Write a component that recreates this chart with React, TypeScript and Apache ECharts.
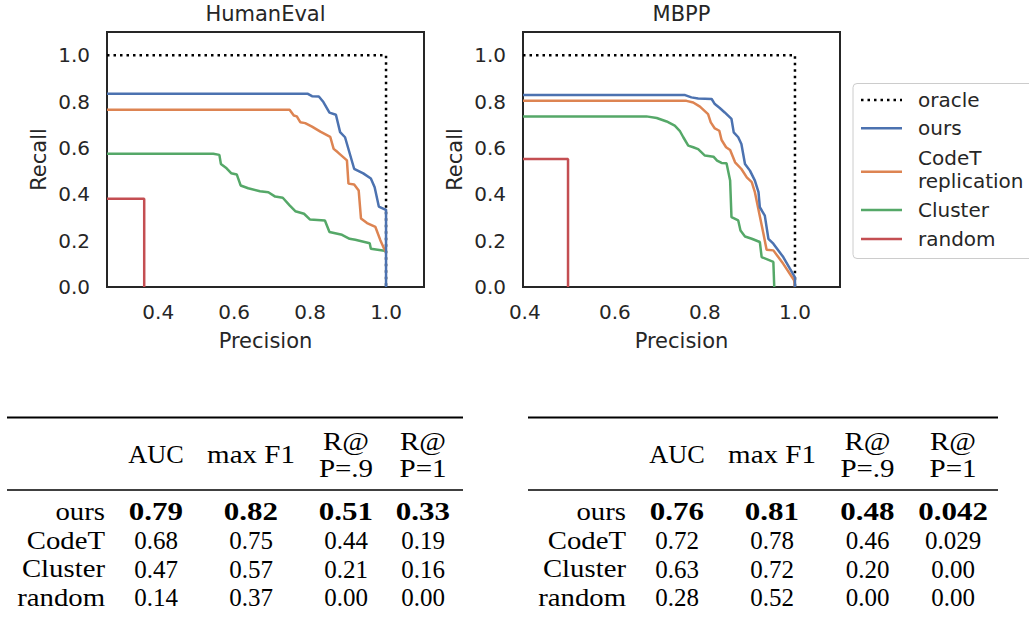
import React, { useEffect, useRef } from 'react';
import * as echarts from 'echarts';

// ---------- data ----------
const panelTitles = ['HumanEval', 'MBPP'];
const seriesNames = ['oracle', 'ours', 'CodeT', 'Cluster', 'random'];
const legendLabels = ['oracle', 'ours', 'CodeT\nreplication', 'Cluster', 'random'];
const xLimits = [[0.265, 1.1], [0.396, 1.1]];
const yLimits = [0, 1.1];

const humanEvalOracle = [[0.265, 1], [1, 1], [1, 0]];
const humanEvalOurs = [[0.265, 0.834], [0.793, 0.834], [0.805, 0.823], [0.823, 0.822], [0.835, 0.798], [0.851, 0.752], [0.868, 0.743], [0.879, 0.668], [0.892, 0.646], [0.916, 0.51], [0.94, 0.49], [0.96, 0.468], [0.97, 0.43], [0.981, 0.347], [0.998, 0.334], [1.0, 0.334], [1.0, 0]];
const humanEvalCodeT = [[0.265, 0.765], [0.746, 0.765], [0.757, 0.74], [0.765, 0.736], [0.774, 0.711], [0.787, 0.707], [0.805, 0.692], [0.827, 0.67], [0.853, 0.648], [0.862, 0.596], [0.873, 0.581], [0.897, 0.546], [0.901, 0.446], [0.916, 0.442], [0.928, 0.416], [0.934, 0.296], [0.95, 0.276], [0.972, 0.259], [0.985, 0.202], [0.995, 0.165], [1.0, 0.15]];
const humanEvalCluster = [[0.265, 0.575], [0.545, 0.575], [0.561, 0.57], [0.565, 0.531], [0.58, 0.512], [0.592, 0.491], [0.607, 0.485], [0.617, 0.438], [0.637, 0.426], [0.668, 0.413], [0.69, 0.409], [0.708, 0.39], [0.728, 0.385], [0.746, 0.352], [0.761, 0.327], [0.784, 0.316], [0.8, 0.291], [0.839, 0.287], [0.851, 0.237], [0.884, 0.225], [0.904, 0.208], [0.919, 0.204], [0.957, 0.189], [0.96, 0.165], [1.0, 0.155]];
const humanEvalRandom = [[0.265, 0.381], [0.363, 0.381], [0.363, 0]];

const mbppOracle = [[0.396, 1], [1, 1], [1, 0]];
const mbppOurs = [[0.396, 0.828], [0.756, 0.828], [0.77, 0.818], [0.785, 0.813], [0.815, 0.811], [0.822, 0.789], [0.833, 0.772], [0.844, 0.753], [0.859, 0.725], [0.864, 0.667], [0.874, 0.646], [0.881, 0.617], [0.889, 0.531], [0.9, 0.502], [0.911, 0.459], [0.919, 0.409], [0.922, 0.344], [0.933, 0.308], [0.941, 0.208], [0.952, 0.187], [0.974, 0.129], [1.0, 0.042], [1.0, 0]];
const mbppCodeT = [[0.396, 0.803], [0.759, 0.803], [0.774, 0.796], [0.789, 0.778], [0.807, 0.746], [0.813, 0.71], [0.822, 0.684], [0.832, 0.674], [0.837, 0.634], [0.847, 0.603], [0.856, 0.591], [0.867, 0.538], [0.881, 0.509], [0.893, 0.473], [0.904, 0.452], [0.911, 0.409], [0.93, 0.23], [0.937, 0.161], [0.952, 0.158], [0.974, 0.1], [0.998, 0.029], [1.0, 0]];
const mbppCluster = [[0.396, 0.736], [0.67, 0.736], [0.693, 0.729], [0.715, 0.714], [0.733, 0.696], [0.744, 0.674], [0.752, 0.646], [0.763, 0.61], [0.774, 0.603], [0.785, 0.595], [0.8, 0.567], [0.819, 0.562], [0.827, 0.545], [0.837, 0.535], [0.848, 0.534], [0.856, 0.459], [0.859, 0.301], [0.874, 0.287], [0.879, 0.244], [0.889, 0.218], [0.904, 0.208], [0.922, 0.194], [0.926, 0.129], [0.952, 0.108], [0.954, 0]];
const mbppRandom = [[0.396, 0.552], [0.496, 0.552], [0.496, 0]];

const tableHeaders = ['AUC', 'max F1', 'R@\nP=.9', 'R@\nP=1'];
const methodNames = ['ours', 'CodeT', 'Cluster', 'random'];
const humanEvalScores = [
  ['0.79', '0.82', '0.51', '0.33'],
  ['0.68', '0.75', '0.44', '0.19'],
  ['0.47', '0.57', '0.21', '0.16'],
  ['0.14', '0.37', '0.00', '0.00'],
];
const mbppScores = [
  ['0.76', '0.81', '0.48', '0.042'],
  ['0.72', '0.78', '0.46', '0.029'],
  ['0.63', '0.72', '0.20', '0.00'],
  ['0.28', '0.52', '0.00', '0.00'],
];

// ---------- styles / layout ----------
const SANS = 'DejaVu Sans';
const SERIF = 'Liberation Serif';
const INK = '#262626';
const colors: Record<string, string> = {
  oracle: '#000000',
  ours: '#4C72B0',
  CodeT: '#DD8452',
  Cluster: '#55A868',
  random: '#C44E52',
};
const grids = [
  { left: 107, top: 32, width: 317, height: 255 },
  { left: 523, top: 32, width: 317, height: 255 },
];

const panelData = [
  { oracle: humanEvalOracle, ours: humanEvalOurs, CodeT: humanEvalCodeT, Cluster: humanEvalCluster, random: humanEvalRandom },
  { oracle: mbppOracle, ours: mbppOurs, CodeT: mbppCodeT, Cluster: mbppCluster, random: mbppRandom },
];
const drawOrder = ['oracle', 'random', 'Cluster', 'CodeT', 'ours'];

const tickFmt = (v: number) => {
  const r = Math.round(v * 5);
  return Math.abs(v * 5 - r) < 1e-6 ? (r / 5).toFixed(1) : '';
};

function tableText(text: string, x: number, y: number, align: string, scaleX: number, bold = false) {
  return {
    type: 'text',
    x,
    y,
    scaleX,
    style: {
      text,
      x: 0,
      y: 0,
      fontSize: 25,
      fontFamily: SERIF,
      fontWeight: bold ? 'bold' : 'normal',
      fill: '#000',
      align,
      verticalAlign: 'middle',
      lineHeight: 27,
    },
  };
}

function buildOption() {
  const series: any[] = [];
  panelData.forEach((pd: any, gi) => {
    drawOrder.forEach((name) => {
      series.push({
        type: 'line',
        name,
        xAxisIndex: gi,
        yAxisIndex: gi,
        data: pd[name],
        showSymbol: false,
        symbol: 'none',
        silent: true,
        z: 2 + drawOrder.indexOf(name),
        lineStyle: {
          color: colors[name],
          width: 2.5,
          type: name === 'oracle' ? [2.5, 4] : 'solid',
        },
      });
    });
  });

  const tickText = { fontSize: 20, color: INK, fontFamily: SANS };
  const nameText = { fontSize: 21, color: INK, fontFamily: SANS };

  const graphic: any[] = [];
  // legend box
  const legendLineY = [100, 128.3, 171.7, 210, 239];
  const legendTextY = [100, 128.3, 169.7, 210, 239];
  graphic.push({
    type: 'rect',
    shape: { x: 853, y: 83.5, width: 200, height: 175, r: 4 },
    style: { fill: '#ffffff', stroke: '#cccccc', lineWidth: 1 },
    z: 10,
  });
  seriesNames.forEach((name, i) => {
    graphic.push({
      type: 'line',
      shape: { x1: 861, y1: legendLineY[i], x2: 902, y2: legendLineY[i] },
      style: {
        stroke: colors[name],
        lineWidth: 2.5,
        lineDash: name === 'oracle' ? [2.5, 4] : null,
      },
      z: 11,
    });
    graphic.push({
      type: 'text',
      style: {
        text: legendLabels[i],
        x: 918,
        y: legendTextY[i],
        fontSize: 20,
        fontFamily: SANS,
        fill: INK,
        align: 'left',
        verticalAlign: 'middle',
        lineHeight: 23,
      },
      z: 11,
    });
  });

  // tables
  const tables = [
    { scores: humanEvalScores, labelRight: 105, cols: [156, 251, 346, 423], x1: 7, x2: 463 },
    { scores: mbppScores, labelRight: 626, cols: [677, 772, 867.5, 953], x1: 528, x2: 998 },
  ];
  const rowY = [512, 540.5, 569, 597.5];
  tables.forEach((t) => {
    graphic.push({ type: 'line', shape: { x1: t.x1, y1: 417.5, x2: t.x2, y2: 417.5 }, style: { stroke: '#000', lineWidth: 2 } });
    graphic.push({ type: 'line', shape: { x1: t.x1, y1: 490, x2: t.x2, y2: 490 }, style: { stroke: '#000', lineWidth: 1.3 } });
    tableHeaders.forEach((h, ci) => {
      graphic.push(tableText(h, t.cols[ci], 455, 'center', ci === 0 ? 1.05 : 1.16));
    });
    methodNames.forEach((m, ri) => {
      graphic.push(tableText(m, t.labelRight, rowY[ri], 'right', 1.15));
      t.scores[ri].forEach((s, ci) => {
        graphic.push(tableText(s, t.cols[ci], rowY[ri], 'center', ri === 0 ? 1.24 : 1.0, ri === 0));
      });
    });
  });

  return {
    animation: false,
    backgroundColor: '#ffffff',
    textStyle: { fontFamily: SANS },
    title: panelTitles.map((t, i) => ({
      text: t,
      left: grids[i].left + grids[i].width / 2,
      top: 3,
      padding: 0,
      textAlign: 'center',
      textStyle: { fontSize: 21, fontWeight: 'normal', color: INK, fontFamily: SANS },
    })),
    grid: grids.map((g) => ({
      ...g,
      show: true,
      borderColor: INK,
      borderWidth: 2,
      backgroundColor: '#ffffff',
      containLabel: false,
    })),
    xAxis: grids.map((_, i) => ({
      type: 'value',
      gridIndex: i,
      min: xLimits[i][0],
      max: xLimits[i][1],
      splitNumber: 4,
      splitLine: { show: false },
      axisLine: { show: false },
      axisTick: { show: false },
      axisLabel: { ...tickText, margin: 15, formatter: tickFmt },
      name: 'Precision',
      nameLocation: 'middle',
      nameGap: 43,
      nameTextStyle: nameText,
    })),
    yAxis: grids.map((_, i) => ({
      type: 'value',
      gridIndex: i,
      min: yLimits[0],
      max: yLimits[1],
      splitNumber: 5,
      splitLine: { show: false },
      axisLine: { show: false },
      axisTick: { show: false },
      axisLabel: { ...tickText, margin: 17, formatter: tickFmt },
      name: 'Recall',
      nameLocation: 'middle',
      nameGap: 58,
      nameTextStyle: nameText,
    })),
    series,
    graphic,
  };
}

export default function App() {
  const ref = useRef<HTMLDivElement>(null);
  useEffect(() => {
    document.body.style.margin = '0';
    const chart = echarts.init(ref.current!, null, { renderer: 'svg' });
    chart.setOption(buildOption() as any);
    return () => chart.dispose();
  }, []);
  return <div ref={ref} style={{ width: 1029, height: 619 }} />;
}
